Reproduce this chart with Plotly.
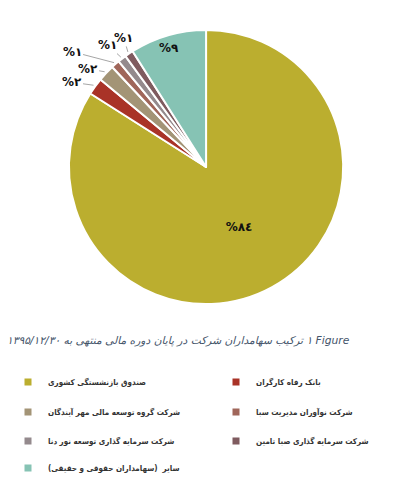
import math
import plotly.graph_objects as go

# ---- data ----
labels = [
    "صندوق بازنشستگی کشوری",
    "بانک رفاه کارگران",
    "شرکت گروه توسعه مالی مهر آیندگان",
    "شرکت نوآوران مدیریت سبا",
    "شرکت سرمایه گذاری توسعه نور دنا",
    "شرکت سرمایه گذاری صبا تامین",
    "سایر  (سهامداران حقوقی و حقیقی)",
]
values = [84, 2, 2, 1, 1, 1, 9]
colors = ["#BBAE2F", "#A93327", "#A39476", "#A0665A", "#948A8D", "#7F5B5F", "#86C3B4"]
caption = "\u202bFigure \u0661 ترکیب سهامداران شرکت در پایان دوره مالی منتهی به ۱۳۹۵/۱۲/۳۰\u202c"

# label placement styles: ("pie",) = plotly inside text, ("in", radial fraction), ("out", dx, dy px)
label_style = [("pie",), ("out", -22, -3), ("out", -17, -3), ("out", -42, -11),
               ("out", -13, -12), ("out", -4, -14), ("in", 0.97)]

fa_digits = str.maketrans("0123456789", "۰۱۲۳٤۵۶۷۸۹")
texts = ["%" + str(round(v)).translate(fa_digits) for v in values]

W, H = 394, 497
dom_x = [0.175, 0.871]
dom_y = [0.388, 0.940]
cx = (dom_x[0] + dom_x[1]) / 2
cy = (dom_y[0] + dom_y[1]) / 2
R = (dom_x[1] - dom_x[0]) * W / 2

label_font = dict(family="DejaVu Sans", size=12, color="#111", weight="bold")

fig = go.Figure()
fig.add_trace(go.Pie(
    labels=labels, values=values,
    text=[t if s[0] == "pie" else "" for t, s in zip(texts, label_style)],
    textinfo="text", textposition="inside", sort=False,
    direction="clockwise", rotation=0,
    marker=dict(colors=colors, line=dict(color="white", width=2)),
    textfont=label_font,
    insidetextorientation="horizontal",
    domain=dict(x=dom_x, y=dom_y),
    showlegend=False, hoverinfo="label+percent",
))

annotations = []
total = sum(values)
cum = 0.0
for v, t, s in zip(values, texts, label_style):
    mid = (cum + v / 2) / total * 2 * math.pi
    cum += v
    sx, sy = math.sin(mid), math.cos(mid)
    if s[0] == "in":
        annotations.append(dict(
            text=t, x=cx + s[1] * R * sx / W, y=cy + s[1] * R * sy / H,
            xref="paper", yref="paper", showarrow=False, font=label_font))
    elif s[0] == "out":
        rr = R + 2
        annotations.append(dict(
            text=t, x=cx + rr * sx / W, y=cy + rr * sy / H,
            xref="paper", yref="paper", showarrow=True, arrowhead=0,
            arrowwidth=1, arrowcolor="#A6A6A6", ax=s[1], ay=s[2], standoff=0,
            font=label_font))

annotations.append(dict(
    text=caption, x=352 / W, y=1 - 340 / H, xref="paper", yref="paper",
    xanchor="right", yanchor="middle", showarrow=False,
    font=dict(family="DejaVu Sans", size=10.7, color="#44546A", style="italic"),
))

# legend layout: two columns, rows top to bottom
col_x = [8, 216]
row_y = [382, 412, 441, 468]
layout_legends = {}
for i, (lab, col) in enumerate(zip(labels, colors)):
    name = "legend" if i == 0 else f"legend{i + 1}"
    fig.add_trace(go.Scatter(
        x=[None], y=[None], mode="markers", name=lab,
        marker=dict(symbol="square", size=7, color=col),
        legend=name, showlegend=True,
    ))
    layout_legends[name] = dict(
        x=col_x[i % 2] / W, y=1 - row_y[i // 2] / H,
        xanchor="left", yanchor="middle",
        font=dict(family="DejaVu Sans Condensed", size=8, color="#333", weight="bold"),
        bgcolor="rgba(0,0,0,0)", itemclick=False, itemdoubleclick=False)

fig.update_layout(
    width=W, height=H, margin=dict(l=0, r=0, t=0, b=0),
    paper_bgcolor="white", plot_bgcolor="white",
    xaxis=dict(visible=False), yaxis=dict(visible=False),
    annotations=annotations,
    **layout_legends,
)

fig.write_html("out.html")
